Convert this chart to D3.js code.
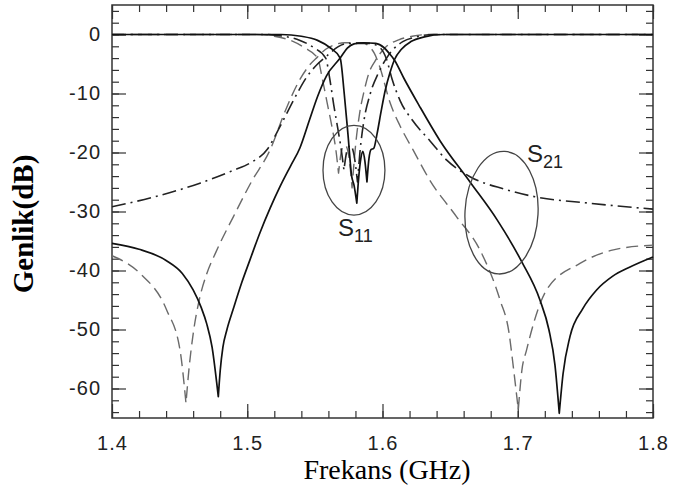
<!DOCTYPE html>
<html>
<head>
<meta charset="utf-8">
<script src="https://cdn.jsdelivr.net/npm/d3@7"></script>
<style>
  html, body { margin: 0; padding: 0; background: #fff; }
  svg { display: block; }
</style>
</head>
<body>
<svg id="chart" width="675" height="493"></svg>
<script>
// Axis ticks
const freqTicks = [1.4, 1.5, 1.6, 1.7, 1.8];
const dbTicks = [0, -10, -20, -30, -40, -50, -60];

// Transmission S21 [GHz, dB]
const s21Solid = [
  [1.400,-35.4],[1.420,-36.4],[1.440,-38.3],[1.452,-40.5],[1.460,-43.3],[1.466,-46.3],
  [1.470,-49],[1.474,-53],[1.4774,-59],[1.4786,-61.4],[1.480,-57],[1.482,-53],[1.485,-50],
  [1.4897,-46.5],[1.496,-42],[1.502,-38.2],[1.5094,-33.6],[1.517,-29.4],[1.5242,-25.8],
  [1.532,-22.3],[1.539,-19.2],[1.546,-14.5],[1.552,-10.5],[1.5586,-7],[1.5687,-4],
  [1.574,-2.3],[1.579,-1.6],[1.586,-1.4],[1.595,-1.5],[1.601,-2.2],
  [1.605,-3.2],[1.609,-4.4],[1.616,-7.5],[1.627,-12],[1.6425,-18],[1.6647,-25],[1.685,-31.5],
  [1.7029,-38.5],[1.7164,-45],[1.723,-50],[1.7275,-56],[1.7307,-64.2],[1.7335,-57.5],
  [1.7386,-51.2],[1.748,-46.5],[1.7583,-43.3],[1.770,-41],[1.783,-39.4],[1.800,-37.7]
];
const s21Dashed = [
  [1.400,-37.5],[1.4207,-40.5],[1.4404,-46.7],[1.4503,-53.5],[1.4547,-62.5],[1.457,-56.5],
  [1.4601,-50.6],[1.465,-44.5],[1.470,-40.6],[1.477,-36.8],[1.4897,-30.9],[1.503,-25],
  [1.5168,-19.6],[1.528,-13],[1.538,-8],[1.546,-5.2],[1.552,-3.8],[1.558,-2.5],[1.565,-1.7],
  [1.572,-1.4],[1.585,-1.4],[1.590,-2],[1.594,-3.2],[1.598,-5.5],[1.6055,-11.5],[1.613,-15.5],
  [1.6227,-19.6],[1.635,-24.7],[1.6548,-30.9],[1.672,-36.5],[1.6869,-45],[1.6935,-50.5],
  [1.6967,-56.3],[1.7004,-63.6],[1.703,-57],[1.7065,-53.5],[1.7213,-43.3],[1.746,-38.8],
  [1.7707,-36.5],[1.800,-35.7]
];
const s21DashDot = [
  [1.400,-29.2],[1.430,-27.6],[1.465,-25.2],[1.490,-23],[1.502,-21.8],[1.515,-19.4],
  [1.524,-15.7],[1.535,-10.8],[1.544,-7.2],[1.552,-5],[1.559,-3.6],[1.567,-2.1],[1.575,-1.5],
  [1.590,-1.5],[1.598,-2.2],[1.603,-4.2],[1.607,-7.5],[1.613,-11.2],[1.622,-14.5],[1.635,-18],
  [1.6475,-21.3],[1.6647,-24.1],[1.690,-26.2],[1.7127,-27.5],[1.7534,-28.6],[1.800,-29.6]
];

// Reflection S11 [GHz, dB]
const s11Solid = [
  [1.400,0],[1.525,0],[1.540,-0.3],[1.552,-1],[1.561,-2.2],[1.5687,-4],[1.5717,-10],
  [1.5745,-17],[1.5772,-24],[1.579,-25.6],[1.581,-28.6],[1.5825,-24],[1.584,-21],
  [1.5855,-19.8],[1.587,-21.5],[1.5885,-25],[1.590,-21],[1.5915,-19.5],[1.5935,-19.3],
  [1.596,-16.8],[1.599,-13],[1.602,-9.5],[1.6055,-6.5],[1.609,-4.2],[1.614,-2.5],
  [1.621,-1.2],[1.631,-0.4],[1.645,0],[1.800,0]
];
const s11Dashed = [
  [1.400,0],[1.505,0],[1.520,-0.3],[1.532,-1],[1.542,-2.2],[1.552,-4],[1.5555,-7.5],
  [1.559,-11.5],[1.5625,-15.5],[1.5655,-19.5],[1.5675,-23.5],[1.570,-19.5],[1.5725,-18.8],
  [1.575,-20.5],[1.5775,-26],[1.580,-19],[1.583,-13.5],[1.5865,-9.5],[1.590,-6.5],
  [1.5945,-4.5],[1.597,-3.6],[1.603,-2],[1.612,-0.9],[1.622,-0.3],[1.635,0],[1.800,0]
];
const s11DashDot = [
  [1.400,0],[1.512,0],[1.527,-0.3],[1.539,-1],[1.549,-2.2],[1.558,-4],[1.561,-7.5],
  [1.564,-12],[1.567,-16],[1.5695,-19.5],[1.5715,-23],[1.574,-19.5],[1.5765,-18.8],
  [1.579,-20.5],[1.5815,-25],[1.5835,-19.5],[1.586,-15],[1.591,-10],[1.597,-6.5],
  [1.603,-4],[1.608,-2.5],[1.615,-1.2],[1.625,-0.4],[1.638,0],[1.800,0]
];

const svg = d3.select("#chart");
const frameL = 112, frameR = 653, frameT = 5, frameB = 418;

const x = d3.scaleLinear().domain([1.4, 1.8]).range([frameL, frameR]);
const y = d3.scaleLinear().domain([-65, 5]).range([frameB, frameT]);

const minorX = d3.range(1.4, 1.8001, 0.02).map(v => +v.toFixed(2));
const minorY = d3.range(-64, 5, 2);

// Ticks on all four sides, pointing inward
function ticks(axisFn, g, values, size, labels, pad) {
  const a = axisFn.tickValues(values).tickSize(-size).tickPadding(pad || 0)
    .tickFormat(labels ? (d => String(d)) : () => "");
  g.call(a);
  g.select(".domain").remove();
  g.selectAll(".tick line").attr("stroke", "#333").attr("stroke-width", 1.2);
  return g;
}
const gx = svg.append("g").attr("transform", `translate(0,${frameB})`);
ticks(d3.axisBottom(x), gx.append("g"), minorX, 7, false);
ticks(d3.axisBottom(x), gx.append("g"), freqTicks, 14, true, 18);
const gxt = svg.append("g").attr("transform", `translate(0,${frameT})`);
ticks(d3.axisTop(x), gxt.append("g"), minorX, 7, false);
ticks(d3.axisTop(x), gxt.append("g"), freqTicks, 14, false);
const gy = svg.append("g").attr("transform", `translate(${frameL},0)`);
ticks(d3.axisLeft(y), gy.append("g"), minorY, 7, false);
ticks(d3.axisLeft(y), gy.append("g"), dbTicks, 14, true, 11);
const gyr = svg.append("g").attr("transform", `translate(${frameR},0)`);
ticks(d3.axisRight(y), gyr.append("g"), minorY, 7, false);
ticks(d3.axisRight(y), gyr.append("g"), dbTicks, 14, false);

svg.selectAll(".tick text")
  .attr("font-family", "'Liberation Sans', Arial, sans-serif")
  .attr("font-size", 20)
  .attr("letter-spacing", 1)
  .attr("fill", "#222");

svg.append("rect")
  .attr("x", frameL).attr("y", frameT)
  .attr("width", frameR - frameL).attr("height", frameB - frameT)
  .attr("fill", "none").attr("stroke", "#333").attr("stroke-width", 1.5);

// Smooth curve that keeps sharp cusps at each local minimum (zeros)
const lineGen = d3.line().x(d => x(d[0])).y(d => y(d[1])).curve(d3.curveMonotoneX);
function cuspPath(pts) {
  const segs = [];
  let start = 0;
  for (let i = 1; i < pts.length - 1; i++) {
    if (pts[i][1] < pts[i - 1][1] && pts[i][1] < pts[i + 1][1]) {
      segs.push(pts.slice(start, i + 1));
      start = i;
    }
  }
  segs.push(pts.slice(start));
  return segs.map((s, i) => {
    const p = lineGen(s);
    return i === 0 ? p : "L" + p.slice(1);
  }).join("");
}

const plot = svg.append("g");
const styles = {
  dashed: { stroke: "#6a6a6a", width: 1.4, dash: "12,6" },
  dashdot: { stroke: "#222", width: 1.6, dash: "14,5,2,5" },
  solid: { stroke: "#111", width: 1.7, dash: null }
};
const series = [
  [s21Dashed, "dashed"], [s11Dashed, "dashed"],
  [s21DashDot, "dashdot"], [s11DashDot, "dashdot"],
  [s21Solid, "solid"], [s11Solid, "solid"]
];
series.forEach(([pts, kind]) => {
  const st = styles[kind];
  plot.append("path")
    .attr("d", cuspPath(pts))
    .attr("fill", "none")
    .attr("stroke", st.stroke)
    .attr("stroke-width", st.width)
    .attr("stroke-dasharray", st.dash)
    .attr("stroke-linejoin", "round");
});

// Annotation ellipses around S11 and S21 groups
function ringAround(cf, cdb, rf, rdb, rot) {
  const cx = x(cf), cy = y(cdb);
  plot.append("ellipse")
    .attr("cx", cx).attr("cy", cy)
    .attr("rx", x(cf + rf) - cx).attr("ry", cy - y(cdb + rdb))
    .attr("transform", `rotate(${rot},${cx},${cy})`)
    .attr("fill", "none").attr("stroke", "#444").attr("stroke-width", 1.3);
}
ringAround(1.5789, -23, 0.0229, 7.6, 0);
ringAround(1.688, -30.2, 0.027, 10.4, 3);

function sLabel(f, db, sub) {
  const t = svg.append("text")
    .attr("x", x(f)).attr("y", y(db))
    .attr("font-family", "'Liberation Sans', Arial, sans-serif")
    .attr("fill", "#222");
  t.append("tspan").attr("font-size", 24).text("S");
  t.append("tspan").attr("font-size", 18).attr("dy", 6).text(sub);
}
sLabel(1.7068, -21.6, "21");
sLabel(1.5671, -34.2, "11");

// Axis titles
svg.append("text")
  .attr("x", 387).attr("y", 479)
  .attr("text-anchor", "middle")
  .attr("font-family", "'Liberation Serif', 'Times New Roman', serif")
  .attr("font-size", 28)
  .attr("fill", "#000")
  .text("Frekans (GHz)");

svg.append("text")
  .attr("transform", "translate(33,224) rotate(-90)")
  .attr("text-anchor", "middle")
  .attr("font-family", "'Liberation Serif', 'Times New Roman', serif")
  .attr("font-weight", "bold")
  .attr("font-size", 29)
  .attr("fill", "#000")
  .text("Genlik(dB)");
</script>
</body>
</html>
